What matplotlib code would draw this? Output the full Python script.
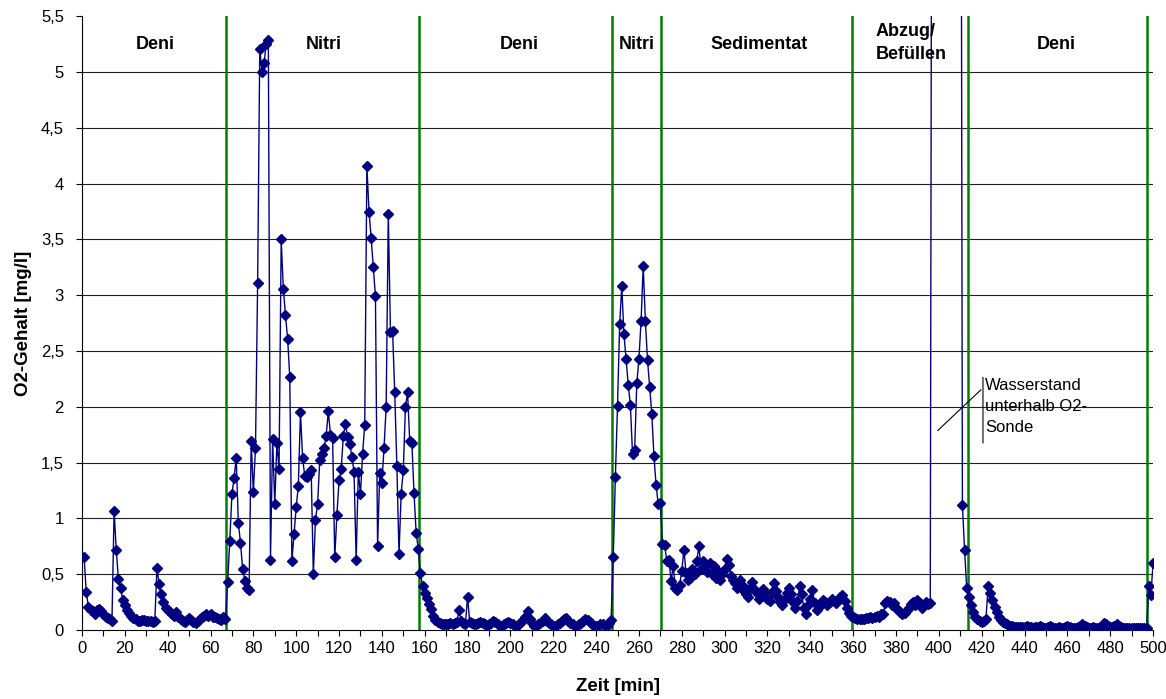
import numpy as np
import matplotlib
matplotlib.use("Agg")
from matplotlib import pyplot as plt
from matplotlib.ticker import MultipleLocator, FuncFormatter

plt.rcParams['font.family'] = ['Liberation Sans', 'DejaVu Sans']

# O2 readings, one per minute, split by phase (start minute, values)
deni1_start = 1
deni1 = [0.65, 0.34, 0.21, 0.18, 0.17, 0.14, 0.18, 0.19, 0.17, 0.14,
         0.12, 0.11, 0.10, 0.08, 1.07, 0.72, 0.46, 0.38, 0.27, 0.22,
         0.18, 0.15, 0.13, 0.11, 0.10, 0.08, 0.08, 0.09, 0.09, 0.08,
         0.08, 0.08, 0.07, 0.08, 0.56, 0.41, 0.32, 0.25, 0.20, 0.18,
         0.16, 0.14, 0.13, 0.16, 0.12, 0.10, 0.08, 0.07, 0.09, 0.11,
         0.09, 0.07, 0.06, 0.08, 0.10, 0.12, 0.13, 0.14, 0.13, 0.14,
         0.12, 0.12, 0.11, 0.10, 0.09, 0.12, 0.10]

nitri1_start = 68
nitri1 = [0.43, 0.80, 1.22, 1.36, 1.54, 0.96, 0.78, 0.55, 0.44, 0.38,
          0.36, 1.69, 1.24, 1.63, 3.11, 5.21, 5.00, 5.08, 5.25, 5.29,
          0.63, 1.71, 1.13, 1.68, 1.44, 3.50, 3.06, 2.82, 2.61, 2.27,
          0.62, 0.86, 1.10, 1.29, 1.95, 1.54, 1.38, 1.37, 1.40, 1.43,
          0.50, 0.99, 1.13, 1.52, 1.58, 1.63, 1.74, 1.96, 1.75, 1.72,
          0.65, 1.03, 1.34, 1.44, 1.74, 1.85, 1.73, 1.67, 1.55, 1.42,
          0.63, 1.42, 1.22, 1.58, 1.84, 4.16, 3.75, 3.51, 3.25, 2.99,
          0.75, 1.41, 1.32, 1.63, 2.00, 3.73, 2.67, 2.68, 2.13, 1.47,
          0.68, 1.22, 1.43, 2.00, 2.13, 1.69, 1.68, 1.23, 0.87, 0.73]

deni2_start = 158
deni2 = [0.51, 0.39, 0.33, 0.29, 0.23, 0.19, 0.13, 0.09,
         0.07, 0.06, 0.05, 0.05, 0.05, 0.05, 0.06, 0.05, 0.06, 0.07,
         0.18, 0.08, 0.06, 0.05, 0.30, 0.07, 0.06, 0.05, 0.05, 0.06,
         0.07, 0.06, 0.05, 0.04, 0.05, 0.06, 0.08, 0.07, 0.05, 0.04,
         0.04, 0.05, 0.06, 0.07, 0.06, 0.05, 0.04, 0.04, 0.05, 0.07,
         0.09, 0.12, 0.17, 0.10, 0.06, 0.04, 0.04, 0.05, 0.06, 0.08,
         0.11, 0.08, 0.06, 0.05, 0.04, 0.04, 0.05, 0.06, 0.08, 0.10,
         0.11, 0.08, 0.06, 0.05, 0.04, 0.04, 0.05, 0.06, 0.08, 0.10,
         0.09, 0.07, 0.05, 0.04, 0.04, 0.04, 0.05, 0.05, 0.04, 0.04,
         0.06, 0.09]

nitri2_start = 248
nitri2 = [0.65, 1.37, 2.01, 2.74, 3.08, 2.65, 2.43, 2.20, 2.02, 1.58,
          1.61, 2.21, 2.43, 2.77, 3.26, 2.77, 2.42, 2.18, 1.94, 1.56,
          1.30, 1.13, 1.14]

sedi_start = 271
sedi = [0.77, 0.76, 0.62, 0.63, 0.44, 0.57, 0.38, 0.36, 0.40, 0.53,
        0.72, 0.51, 0.45, 0.47, 0.55, 0.50, 0.62, 0.75, 0.55, 0.62,
        0.58, 0.52, 0.60, 0.50, 0.57, 0.47, 0.53, 0.45, 0.50, 0.55,
        0.64, 0.58, 0.48, 0.45, 0.42, 0.38, 0.45, 0.40, 0.35, 0.32,
        0.30, 0.38, 0.43, 0.36, 0.33, 0.28, 0.32, 0.37, 0.33, 0.28,
        0.26, 0.34, 0.42, 0.35, 0.30, 0.25, 0.22, 0.28, 0.33, 0.38,
        0.32, 0.25, 0.20, 0.26, 0.39, 0.32, 0.20, 0.14, 0.22, 0.28,
        0.36, 0.24, 0.18, 0.21, 0.24, 0.27, 0.25, 0.22, 0.25, 0.28,
        0.26, 0.24, 0.27, 0.30, 0.31, 0.26, 0.20, 0.15]

# probe above water level from ~397 to 410 min -> readings off the scale
abzug_start = 359
abzug = [0.13, 0.12, 0.11, 0.10, 0.10, 0.10, 0.10, 0.11, 0.11, 0.12,
         0.11, 0.12, 0.13, 0.12, 0.14, 0.14, 0.24, 0.26, 0.25, 0.22,
         0.24, 0.20, 0.18, 0.16, 0.14, 0.15, 0.18, 0.20, 0.23, 0.25,
         0.22, 0.27, 0.24, 0.20, 0.22, 0.25, 0.23, 0.24,
         11.0, 11.2, 11.3, 11.3, 11.4, 11.4, 11.5, 11.5, 11.5, 11.6,
         11.6, 11.6, 11.7, 11.7]

deni3_start = 411
deni3 = [1.12, 0.72, 0.38, 0.30, 0.22, 0.16, 0.12, 0.10, 0.08, 0.07,
         0.08, 0.10, 0.39, 0.33, 0.27, 0.21, 0.16, 0.12, 0.09, 0.07,
         0.06, 0.05, 0.04, 0.04, 0.03, 0.03, 0.03, 0.03, 0.03, 0.03,
         0.04, 0.03, 0.03, 0.02, 0.03, 0.03, 0.04, 0.03, 0.02, 0.02,
         0.03, 0.04, 0.03, 0.02, 0.02, 0.03, 0.02, 0.02, 0.03, 0.04,
         0.03, 0.02, 0.02, 0.02, 0.03, 0.04, 0.05, 0.04, 0.03, 0.02,
         0.02, 0.03, 0.02, 0.02, 0.03, 0.04, 0.06, 0.05, 0.04, 0.03,
         0.03, 0.04, 0.05, 0.04, 0.03, 0.02, 0.02, 0.02, 0.02, 0.02,
         0.02, 0.02, 0.02, 0.02, 0.02, 0.02, 0.02, 0.39, 0.31, 0.60]

# phase boundaries [min] and phase labels (x position, text)
phase_bounds = [67.2, 157.3, 247.3, 270.2, 359.3, 413.4, 497.4]
phase_labels = [(34, "Deni"), (113, "Nitri"), (204, "Deni"), (259, "Nitri"),
                (316, "Sedimentat"), (455, "Deni")]

segments = [(deni1_start, deni1), (nitri1_start, nitri1), (deni2_start, deni2),
            (nitri2_start, nitri2), (sedi_start, sedi), (abzug_start, abzug),
            (deni3_start, deni3)]
t = np.concatenate([start + np.arange(len(vals)) for start, vals in segments])
o2 = np.concatenate([vals for _, vals in segments])

fig = plt.figure(figsize=(11.66, 6.99), dpi=100)
ax = fig.add_axes([0.0703, 0.0987, 0.9186, 0.878])

for xb in phase_bounds:
    ax.axvline(xb, color='#008000', lw=1.8, zorder=2)

ax.plot(t, o2, color='#000080', lw=1.0, marker='D', ms=5.3, zorder=3)

ax.set_xlim(0, 500)
ax.set_ylim(0, 5.5)
ax.xaxis.set_major_locator(MultipleLocator(20))
ax.xaxis.set_minor_locator(MultipleLocator(10))
ax.yaxis.set_major_locator(MultipleLocator(0.5))
ax.yaxis.set_major_formatter(FuncFormatter(lambda v, p: f"{v:g}".replace('.', ',')))
ax.tick_params(axis='both', which='both', direction='out', length=4, width=0.8,
               labelsize=12, color='black')
ax.tick_params(axis='x', pad=4)
ax.tick_params(axis='y', pad=9)

for yv in np.arange(0.5, 5.01, 0.5):
    ax.axhline(yv, color='#202020', lw=0.8, zorder=1)

for s in ['top', 'right']:
    ax.spines[s].set_visible(False)

ax.set_xlabel("Zeit [min]", fontsize=13.5, fontweight='bold', labelpad=16)
ax.set_ylabel("O2-Gehalt [mg/l]", fontsize=13.5, fontweight='bold', labelpad=6)

for xp, txt in phase_labels:
    ax.text(xp, 5.25, txt, ha='center', va='center', fontsize=13, fontweight='bold')
ax.text(370.5, 5.26, "Abzug/\nBefüllen", ha='left', va='center', fontsize=13,
        fontweight='bold', linespacing=1.4)

ax.text(421.6, 2.0, "Wasserstand\nunterhalb O2-\nSonde", ha='left', va='center',
        fontsize=12, linespacing=1.5)
ax.annotate('', xy=(420.6, 1.65), xytext=(420.6, 2.29),
            arrowprops=dict(arrowstyle='-', lw=0.8, color='black'))
ax.annotate('', xy=(398.5, 1.77), xytext=(420.6, 2.17),
            arrowprops=dict(arrowstyle='-', lw=0.8, color='black'))

fig.savefig("out.png", dpi=100)
